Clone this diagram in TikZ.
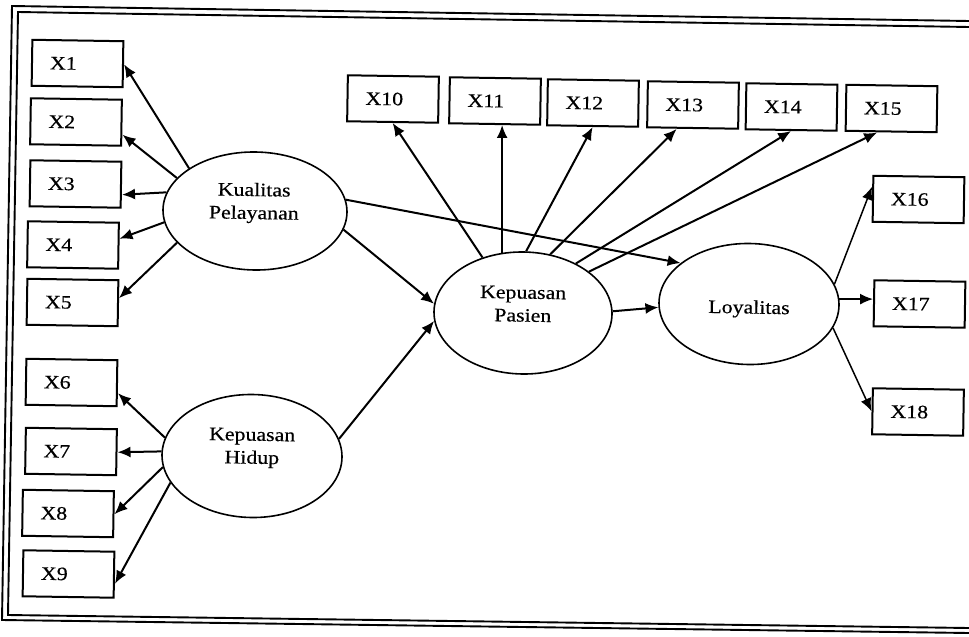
\documentclass[tikz,border=0pt]{standalone}
\usepackage{fontspec}
\setmainfont{Liberation Serif}[FakeStretch=1.15,FakeBold=0.4]
\usetikzlibrary{arrows.meta,shapes.geometric,calc}

\begin{document}
\begin{tikzpicture}[x=1pt,y=-1pt,
  every node/.style={font=\fontsize{19}{23}\selectfont},
  ind/.style={draw, line width=2pt, rotate=-0.9, minimum height=46pt,
    text width=55pt, inner xsep=18pt, inner ysep=0pt, align=left},
  lat/.style={draw, ellipse, line width=1.6pt, rotate=-0.9, inner sep=0pt},
  lattext/.style={rotate=-0.9, align=center, inner sep=0pt},
  arr/.style={line width=2pt, -{Latex[length=13pt,width=11pt]}},
  thinarr/.style={line width=1.5pt, -{Latex[length=13pt,width=11pt]}},
  frameline/.style={line width=1.9pt}]

% page and background
\fill[white] (0,0) rectangle (969,637);
\useasboundingbox (0,0) rectangle (969,637);

% double frame, open on the right
\draw[frameline] (969,21) -- (12,6) -- (2,620) -- (969,633);
\draw[frameline] (969,27) -- (18,12) -- (8,615) -- (969,628);

% indicators of Kualitas Pelayanan
\node[ind] (x1) at (77.5,63.5) {X1};
\node[ind] (x2) at (76,122) {X2};
\node[ind] (x3) at (75.5,184) {X3};
\node[ind] (x4) at (73,245) {X4};
\node[ind] (x5) at (72.5,302.5) {X5};

% indicators of Kepuasan Hidup
\node[ind] (x6) at (71.5,382.5) {X6};
\node[ind] (x7) at (71,451.5) {X7};
\node[ind] (x8) at (68,513.5) {X8};
\node[ind] (x9) at (68.5,574) {X9};

% indicators of Kepuasan Pasien
\node[ind] (x10) at (393,99) {X10};
\node[ind] (x11) at (495,101) {X11};
\node[ind] (x12) at (593,103) {X12};
\node[ind] (x13) at (693,105) {X13};
\node[ind] (x14) at (791.5,107) {X14};
\node[ind] (x15) at (891.5,108.5) {X15};

% indicators of Loyalitas
\node[ind] (x16) at (918.5,199.5) {X16};
\node[ind] (x17) at (919.5,304) {X17};
\node[ind] (x18) at (918,412) {X18};

% latent variables and their names
\node[lat, minimum width=184pt, minimum height=118pt] (kq) at (255,211) {};
\node[lat, minimum width=180pt, minimum height=123pt] (kh) at (252,456) {};
\node[lat, minimum width=178pt, minimum height=122pt] (kp) at (523,313) {};
\node[lat, minimum width=180pt, minimum height=121pt] (loy) at (749,304) {};
\node[lattext] (kqname) at (254,203) {Kualitas\\Pelayanan};
\node[lattext] (khname) at (252,448) {Kepuasan\\Hidup};
\node[lattext] (kpname) at (523,304) {Kepuasan\\Pasien};
\node[lattext] (loyname) at (749,309) {Loyalitas};

% loadings of Kualitas Pelayanan
\draw[arr] (kq.148) -- (x1.east);
\draw[arr] (kq.158) -- ([yshift=-12pt]x2.east);
\draw[arr] (kq.169) -- ([yshift=-10pt]x3.east);
\draw[arr] (kq.188) -- ([yshift=7pt]x4.east);
\draw[arr] (kq.203) -- ([yshift=5pt]x5.east);

% loadings of Kepuasan Hidup
\draw[arr] (kh.169) -- ([yshift=-10pt]x6.east);
\draw[arr] (kh.178) -- (x7.east);
\draw[arr] (kh.188) -- (x8.east);
\draw[arr] (kh.199) -- ([yshift=-9pt]x9.east);

% structural paths
\draw[arr] (kq.349) -- (kp.175);
\draw[arr] (kq.8) -- (loy.150);
\draw[arr] (kh.12) -- (kp.186);
\draw[arr] (kp.2) -- (loy.183);

% loadings of Kepuasan Pasien
\draw[arr] (kp.127) -- (x10.south);
\draw[arr] (kp.110) -- (kp.110 |- x11.south);
\draw[arr] (kp.88) -- (x12.south);
\draw[arr] (kp.66) -- ([xshift=-16pt]x13.south);
\draw[arr] (kp.44) -- (x14.south);
\draw[arr] (kp.33) -- ([xshift=-14pt]x15.south);

% loadings of Loyalitas
\draw[thinarr] (loy.14) -- ([yshift=12pt]x16.west);
\draw[thinarr] (loy.4) -- (loy.4 -| x17.west);
\draw[thinarr] (loy.345) -- (x18.west);
\end{tikzpicture}
\end{document}
